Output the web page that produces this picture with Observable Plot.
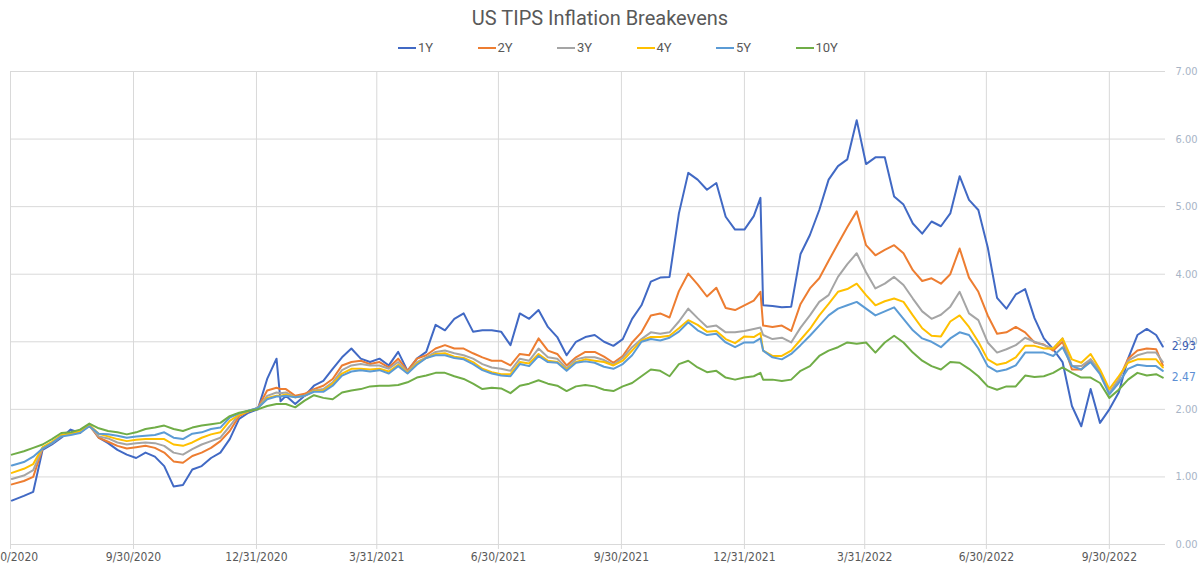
<!DOCTYPE html>
<html>
<head>
<meta charset="utf-8">
<script src="https://cdn.jsdelivr.net/npm/d3@7"></script>
<script src="https://cdn.jsdelivr.net/npm/@observablehq/plot@0.6"></script>
<style>
  body { margin: 0; background: #fff; font-family: Roboto, "Noto Sans", sans-serif; }
  #head { position: relative; width: 1200px; height: 60px; }
  #title { position: absolute; top: 6px; left: 0; width: 1200px; text-align: center; font-size: 20px; color: #595959; }
  #legend { position: absolute; top: 40px; left: 398px; display: flex; font-size: 13px; color: #595959; }
  .item { width: 79.5px; display: flex; align-items: center; }
  .swatch { width: 18px; height: 2px; margin-right: 2px; }
</style>
</head>
<body>
<div id="head">
  <div id="title">US TIPS Inflation Breakevens</div>
  <div id="legend"></div>
</div>
<div id="chart"></div>
<script>
const seriesNames = ["1Y", "2Y", "3Y", "4Y", "5Y", "10Y"];
const seriesColors = ["#4169c4", "#ed7d31", "#a5a5a5", "#ffc000", "#5b9bd5", "#70ad47"];

const dates = [
  "2020-07-01","2020-07-10","2020-07-17","2020-07-24","2020-07-31","2020-08-07","2020-08-14","2020-08-21","2020-08-28",
  "2020-09-04","2020-09-11","2020-09-18","2020-09-25","2020-10-02","2020-10-09","2020-10-16","2020-10-23","2020-10-30",
  "2020-11-06","2020-11-13","2020-11-20","2020-11-27","2020-12-04","2020-12-11","2020-12-18","2020-12-25",
  "2021-01-01","2021-01-08","2021-01-15","2021-01-18","2021-01-22","2021-01-29","2021-02-05","2021-02-12","2021-02-19","2021-02-26",
  "2021-03-05","2021-03-12","2021-03-19","2021-03-26","2021-04-02","2021-04-09","2021-04-16","2021-04-23","2021-04-30",
  "2021-05-07","2021-05-14","2021-05-21","2021-05-28","2021-06-04","2021-06-11","2021-06-18","2021-06-25",
  "2021-07-02","2021-07-09","2021-07-16","2021-07-23","2021-07-30","2021-08-06","2021-08-13","2021-08-20","2021-08-27",
  "2021-09-03","2021-09-10","2021-09-17","2021-09-24","2021-10-01","2021-10-08","2021-10-15","2021-10-22","2021-10-29",
  "2021-11-05","2021-11-12","2021-11-19","2021-11-26","2021-12-03","2021-12-10","2021-12-17","2021-12-24","2021-12-31",
  "2022-01-07","2022-01-12","2022-01-14","2022-01-21","2022-01-28","2022-02-04","2022-02-11","2022-02-18","2022-02-25",
  "2022-03-04","2022-03-11","2022-03-18","2022-03-25","2022-04-01","2022-04-08","2022-04-15","2022-04-22","2022-04-29",
  "2022-05-06","2022-05-13","2022-05-20","2022-05-27","2022-06-03","2022-06-10","2022-06-17","2022-06-24",
  "2022-07-01","2022-07-08","2022-07-15","2022-07-22","2022-07-29","2022-08-05","2022-08-12","2022-08-19","2022-08-26",
  "2022-09-02","2022-09-09","2022-09-16","2022-09-23","2022-09-30","2022-10-07","2022-10-14","2022-10-21","2022-10-28",
  "2022-11-04","2022-11-09"
];

const be1Y = [
  0.65,0.72,0.78,1.40,1.48,1.58,1.70,1.65,1.78,
  1.58,1.50,1.40,1.33,1.28,1.36,1.30,1.16,0.86,
  0.88,1.11,1.16,1.28,1.36,1.56,1.86,1.95,
  2.00,2.45,2.75,2.12,2.20,2.08,2.20,2.35,2.42,2.60,
  2.77,2.90,2.75,2.70,2.75,2.65,2.85,2.57,2.75,
  2.85,3.25,3.17,3.34,3.42,3.15,3.17,3.17,
  3.15,2.95,3.42,3.34,3.47,3.22,3.07,2.80,3.00,
  3.07,3.10,3.00,2.94,3.04,3.34,3.54,3.89,3.95,
  3.96,4.90,5.50,5.40,5.25,5.35,4.85,4.66,4.66,
  4.86,5.13,3.54,3.53,3.51,3.52,4.30,4.58,4.95,
  5.40,5.60,5.70,6.28,5.63,5.73,5.73,5.15,5.03,
  4.75,4.60,4.78,4.71,4.90,5.45,5.10,4.95,
  4.40,3.65,3.49,3.70,3.78,3.35,3.05,2.89,2.70,
  2.05,1.75,2.30,1.80,2.00,2.25,2.75,3.10,3.19,
  3.10,2.93
];
const be2Y = [
  0.89,0.94,1.00,1.42,1.50,1.60,1.65,1.66,1.76,
  1.58,1.52,1.46,1.42,1.44,1.46,1.43,1.36,1.23,
  1.21,1.31,1.36,1.43,1.53,1.68,1.90,1.97,
  2.02,2.28,2.32,2.30,2.30,2.20,2.23,2.30,2.35,2.45,
  2.65,2.70,2.72,2.67,2.70,2.62,2.75,2.57,2.75,
  2.80,2.90,2.95,2.90,2.90,2.83,2.77,2.72,
  2.72,2.65,2.82,2.80,3.05,2.87,2.82,2.65,2.77,
  2.85,2.85,2.78,2.69,2.79,2.99,3.14,3.39,3.42,
  3.36,3.75,4.01,3.85,3.67,3.80,3.50,3.47,3.54,
  3.61,3.74,3.24,3.22,3.24,3.16,3.56,3.79,3.94,
  4.20,4.45,4.70,4.93,4.43,4.28,4.36,4.43,4.31,
  4.06,3.90,3.94,3.86,4.00,4.38,3.95,3.74,
  3.39,3.12,3.14,3.22,3.14,2.99,2.96,2.87,3.00,
  2.59,2.59,2.74,2.54,2.24,2.44,2.75,2.87,2.90,
  2.89,2.65
];
const be3Y = [
  0.97,1.02,1.10,1.43,1.50,1.61,1.64,1.67,1.76,
  1.60,1.57,1.51,1.48,1.50,1.51,1.50,1.46,1.36,
  1.33,1.41,1.48,1.53,1.58,1.75,1.93,1.98,
  2.02,2.20,2.25,2.24,2.25,2.18,2.20,2.28,2.30,2.40,
  2.58,2.65,2.67,2.65,2.65,2.60,2.70,2.55,2.70,
  2.77,2.85,2.87,2.83,2.80,2.75,2.67,2.62,
  2.60,2.57,2.75,2.72,2.90,2.77,2.75,2.61,2.74,
  2.77,2.77,2.73,2.66,2.76,2.92,3.04,3.14,3.12,
  3.14,3.30,3.49,3.35,3.22,3.24,3.14,3.14,3.16,
  3.19,3.21,3.10,3.04,3.06,2.99,3.21,3.39,3.59,
  3.69,3.96,4.15,4.31,4.03,3.79,3.86,3.96,3.84,
  3.64,3.45,3.34,3.40,3.52,3.74,3.42,3.32,
  2.99,2.84,2.89,2.95,3.06,3.00,2.95,2.90,3.05,
  2.64,2.64,2.74,2.57,2.24,2.44,2.72,2.80,2.84,
  2.84,2.70
];
const be4Y = [
  1.06,1.12,1.19,1.44,1.52,1.62,1.64,1.68,1.77,
  1.64,1.60,1.56,1.53,1.55,1.56,1.56,1.56,1.48,
  1.46,1.51,1.58,1.63,1.66,1.83,1.92,1.97,
  2.01,2.17,2.20,2.20,2.22,2.18,2.20,2.27,2.28,2.38,
  2.53,2.60,2.60,2.59,2.60,2.56,2.66,2.54,2.68,
  2.76,2.82,2.83,2.78,2.76,2.70,2.60,2.55,
  2.52,2.52,2.70,2.68,2.82,2.72,2.70,2.59,2.70,
  2.74,2.72,2.70,2.65,2.72,2.87,3.02,3.07,3.07,
  3.09,3.20,3.32,3.25,3.15,3.16,3.04,2.98,3.08,
  3.07,3.13,2.87,2.79,2.79,2.87,3.03,3.19,3.39,
  3.56,3.74,3.78,3.86,3.69,3.54,3.60,3.64,3.59,
  3.39,3.20,3.09,3.08,3.30,3.39,3.22,3.00,
  2.74,2.66,2.69,2.77,2.94,2.94,2.90,2.90,3.05,
  2.74,2.69,2.82,2.59,2.30,2.49,2.69,2.74,2.74,
  2.74,2.62
];
const be5Y = [
  1.17,1.22,1.30,1.42,1.50,1.60,1.62,1.65,1.75,
  1.64,1.63,1.61,1.58,1.60,1.61,1.62,1.66,1.58,
  1.56,1.64,1.66,1.71,1.73,1.88,1.94,1.98,
  2.02,2.15,2.19,2.19,2.20,2.18,2.20,2.26,2.26,2.35,
  2.50,2.56,2.58,2.56,2.58,2.53,2.64,2.53,2.66,
  2.76,2.80,2.80,2.76,2.74,2.67,2.58,2.53,
  2.50,2.49,2.67,2.64,2.79,2.70,2.69,2.57,2.69,
  2.71,2.69,2.63,2.60,2.67,2.80,3.00,3.04,3.02,
  3.06,3.15,3.29,3.17,3.10,3.12,2.99,2.92,2.99,
  2.99,3.05,2.87,2.77,2.74,2.82,2.95,3.09,3.24,
  3.39,3.49,3.54,3.59,3.49,3.39,3.45,3.51,3.34,
  3.17,3.05,3.00,2.92,3.05,3.14,3.10,2.90,
  2.64,2.56,2.59,2.65,2.84,2.84,2.84,2.79,2.92,
  2.64,2.59,2.70,2.52,2.22,2.39,2.60,2.66,2.64,
  2.64,2.57
];
const be10Y = [
  1.33,1.38,1.43,1.48,1.56,1.65,1.66,1.70,1.79,
  1.72,1.68,1.66,1.63,1.66,1.71,1.73,1.76,1.71,
  1.68,1.73,1.76,1.78,1.80,1.90,1.95,1.98,
  2.00,2.05,2.08,2.08,2.08,2.03,2.13,2.21,2.17,2.15,
  2.25,2.28,2.30,2.34,2.35,2.35,2.36,2.40,2.47,
  2.50,2.54,2.54,2.49,2.45,2.38,2.30,2.32,
  2.31,2.24,2.35,2.38,2.43,2.38,2.35,2.27,2.34,
  2.36,2.34,2.29,2.27,2.34,2.39,2.49,2.59,2.57,
  2.49,2.67,2.72,2.62,2.55,2.57,2.47,2.44,2.47,
  2.49,2.54,2.44,2.44,2.42,2.44,2.57,2.64,2.79,
  2.87,2.92,2.99,2.97,2.99,2.84,2.99,3.09,2.99,
  2.84,2.72,2.64,2.59,2.70,2.69,2.60,2.49,
  2.34,2.29,2.34,2.34,2.50,2.48,2.49,2.54,2.62,
  2.54,2.47,2.47,2.39,2.17,2.29,2.44,2.54,2.50,
  2.52,2.47
];

const tickDates = ["2020-06-30","2020-09-30","2020-12-31","2021-03-31","2021-06-30","2021-09-30","2021-12-31","2022-03-31","2022-06-30","2022-09-30"];
const yTicks = [0, 1, 2, 3, 4, 5, 6, 7];

// end-of-series labels (1Y and 10Y last values)
const endLabelSeries = ["1Y", "10Y"];
const endLabelColors = ["#3d5fb4", "#5d8fd4"];

const seriesValues = [be1Y, be2Y, be3Y, be4Y, be5Y, be10Y];
const table = seriesNames.flatMap((s, i) =>
  dates.map((d, j) => ({ date: new Date(d), value: seriesValues[i][j], series: s }))
);
const endLabels = endLabelSeries.map((s, i) => {
  const vals = seriesValues[seriesNames.indexOf(s)];
  return { date: new Date(dates[dates.length - 1]), value: vals[vals.length - 1], color: endLabelColors[i] };
});

// legend
const legend = document.getElementById("legend");
seriesNames.forEach((s, i) => {
  const item = document.createElement("div");
  item.className = "item";
  const sw = document.createElement("span");
  sw.className = "swatch";
  sw.style.background = seriesColors[i];
  const tx = document.createElement("span");
  tx.textContent = s;
  item.appendChild(sw);
  item.appendChild(tx);
  legend.appendChild(item);
});

const ticks = tickDates.map(d => new Date(d));
const fmtDate = d => `${d.getUTCMonth() + 1}/${d.getUTCDate()}/${d.getUTCFullYear()}`;

const chart = Plot.plot({
  width: 1200,
  height: 506,
  marginTop: 11,
  marginBottom: 22,
  marginLeft: 10,
  marginRight: 35,
  style: { fontFamily: "'Liberation Sans Narrow', 'DejaVu Sans Condensed', 'Roboto', sans-serif", fontSize: "12px", background: "white" },
  x: { type: "utc", domain: [new Date("2020-06-30"), new Date("2022-11-11")], label: null },
  y: { domain: [0, 7], label: null },
  color: { domain: seriesNames, range: seriesColors },
  marks: [
    Plot.gridX(ticks, { stroke: "#d9d9d9", strokeOpacity: 1 }),
    Plot.gridY(yTicks, { stroke: "#d9d9d9", strokeOpacity: 1 }),
    Plot.axisX(ticks, { tickSize: 5, tickPadding: 3, stroke: "#d9d9d9", fill: "#595959", tickFormat: fmtDate, fontSize: 12, label: null }),
    Plot.axisY(yTicks, { anchor: "right", tickSize: 0, tickPadding: 10, fill: "#a7b4c6", tickFormat: d3.format(".2f"), fontSize: 11, textAnchor: "start", label: null }),
    Plot.line(table, { x: "date", y: "value", stroke: "series", strokeWidth: 2 }),
    Plot.text(endLabels, { x: "date", y: "value", text: d => d3.format(".2f")(d.value), fill: d => d.color, dx: 9, textAnchor: "start", fontSize: 12 })
  ]
});
document.getElementById("chart").appendChild(chart);
</script>
</body>
</html>
